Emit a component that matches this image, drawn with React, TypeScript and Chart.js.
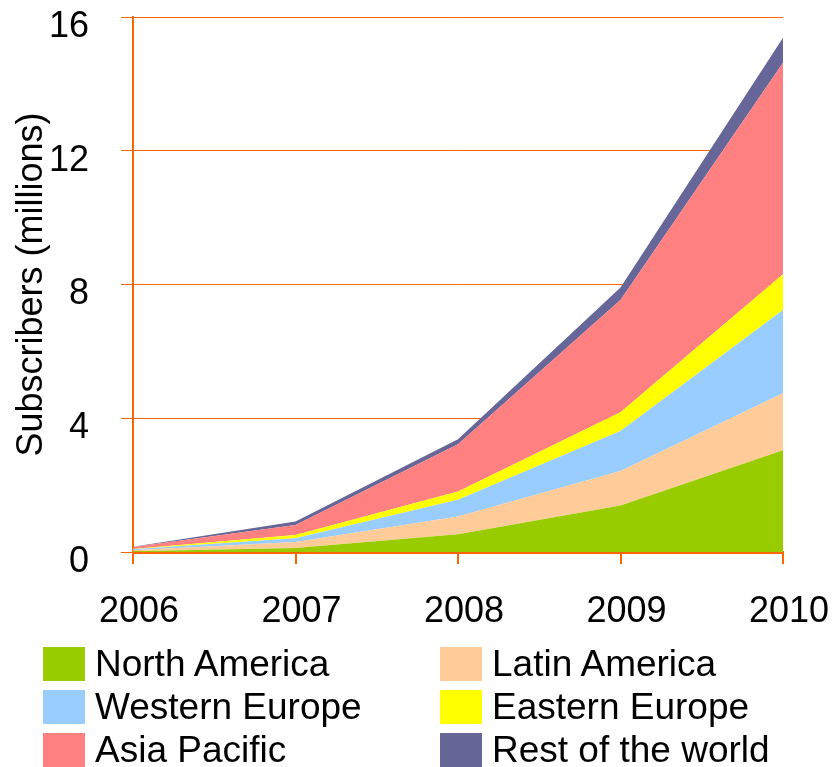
import React, { useEffect, useRef } from "react";
import { Chart, registerables } from "chart.js";

Chart.register(...registerables);

const years = ["2006", "2007", "2008", "2009", "2010"];
const northAmerica = [0.02, 0.12, 0.53, 1.39, 3.04];
const latinAmerica = [0.03, 0.18, 0.53, 1.03, 1.71];
const westernEurope = [0.03, 0.11, 0.5, 1.2, 2.49];
const easternEurope = [0.01, 0.1, 0.25, 0.56, 1.07];
const asiaPacific = [0.06, 0.3, 1.41, 3.36, 6.32];
const restOfWorld = [0.005, 0.1, 0.15, 0.37, 0.75];

const seriesNames = [
  "North America",
  "Latin America",
  "Western Europe",
  "Eastern Europe",
  "Asia Pacific",
  "Rest of the world",
];
const seriesColors = ["#99CC00", "#FFCC99", "#99CCFF", "#FFFF00", "#FF8080", "#666699"];
const seriesValues = [northAmerica, latinAmerica, westernEurope, easternEurope, asiaPacific, restOfWorld];

const yTitle = "Subscribers (millions)";
const FONT = "'Liberation Sans', Arial, sans-serif";
const ORANGE = "#FF6600";

// legend order as displayed: 2 columns, row-major
const legendOrder = [0, 1, 2, 3, 4, 5];

export default function App() {
  const canvasRef = useRef<HTMLCanvasElement | null>(null);

  useEffect(() => {
    if (!canvasRef.current) return;
    const chart = new Chart(canvasRef.current, {
      type: "line",
      data: {
        labels: years,
        datasets: seriesValues.map((vals, i) => ({
          label: seriesNames[i],
          data: vals,
          backgroundColor: seriesColors[i],
          borderColor: seriesColors[i],
          borderWidth: 0,
          pointRadius: 0,
          pointHoverRadius: 0,
          tension: 0,
          fill: i === 0 ? "origin" : "-1",
        })),
      },
      options: {
        animation: false,
        responsive: false,
        devicePixelRatio: 1,
        layout: { padding: { left: 0, top: 17, right: 50, bottom: 0 } },
        plugins: {
          legend: { display: false },
          tooltip: { enabled: false },
        },
        scales: {
          x: {
            type: "category",
            offset: false,
            grid: {
              drawOnChartArea: false,
              drawTicks: true,
              tickLength: 12,
              color: ORANGE,
              lineWidth: 2,
            },
            border: { color: ORANGE, width: 3 },
            ticks: {
              color: "#000",
              font: { family: FONT, size: 36 },
              padding: 26,
              labelOffset: 6,
              maxRotation: 0,
              autoSkip: false,
            },
            afterFit: (scale: any) => {
              scale.height = 767 - 552;
              scale.paddingLeft = 0;
              scale.paddingRight = 0;
            },
          },
          y: {
            stacked: true,
            min: 0,
            max: 16,
            grid: {
              color: ORANGE,
              lineWidth: 1,
              tickLength: 12,
            },
            border: { color: ORANGE, width: 2 },
            ticks: {
              stepSize: 4,
              color: "#000",
              font: { family: FONT, size: 36 },
              padding: 32,
              labelOffset: 10,
            },
            title: {
              display: true,
              text: yTitle,
              color: "#000",
              font: { family: FONT, size: 36 },
              padding: { top: 10, bottom: 0 },
            },
            afterFit: (scale: any) => {
              scale.width = 133;
              scale.paddingTop = 0;
              scale.paddingBottom = 0;
            },
          },
        },
      },
    });
    return () => chart.destroy();
  }, []);

  return (
    <div style={{ position: "absolute", left: 0, top: 0, width: 833, height: 767, background: "#fff", overflow: "hidden" }}>
      <canvas ref={canvasRef} width={833} height={767} style={{ position: "absolute", left: 0, top: 0, width: 833, height: 767 }} />
      {legendOrder.map((idx, k) => {
        const col = k % 2;
        const row = Math.floor(k / 2);
        return (
          <div
            key={idx}
            style={{
              position: "absolute",
              left: col === 0 ? 43 : 440,
              top: 647 + row * 43,
              height: 34,
              display: "flex",
              alignItems: "center",
              whiteSpace: "nowrap",
            }}
          >
            <div style={{ width: 42, height: 34, background: seriesColors[idx], flex: "none" }} />
            <span style={{ marginLeft: 10, fontFamily: FONT, fontSize: 37, color: "#000", lineHeight: "34px" }}>
              {seriesNames[idx]}
            </span>
          </div>
        );
      })}
    </div>
  );
}
